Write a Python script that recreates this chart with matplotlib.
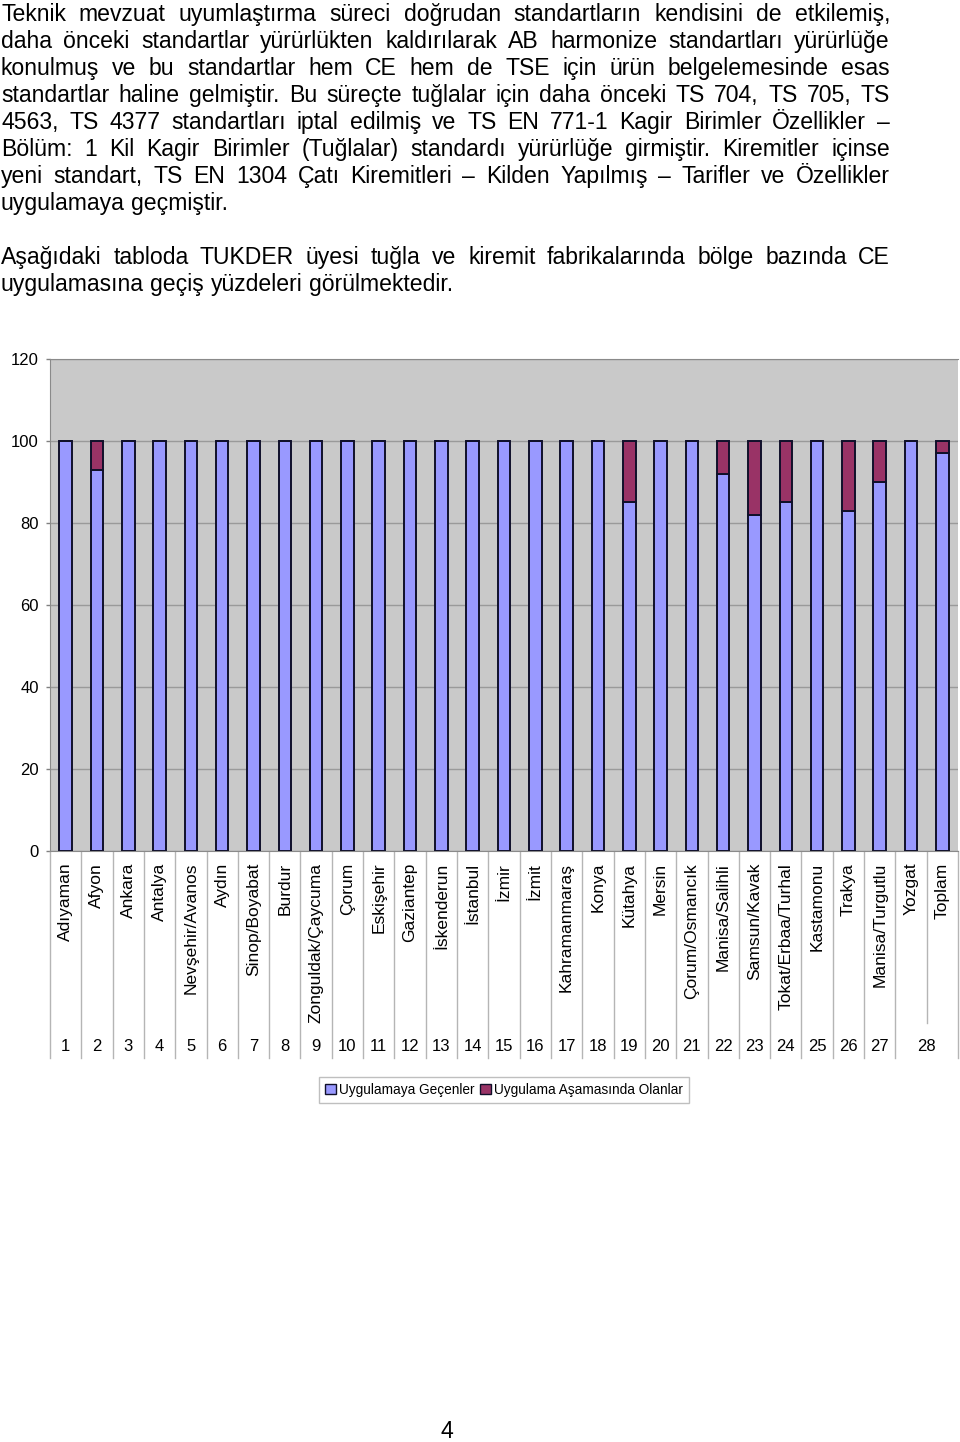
import matplotlib
matplotlib.use('Agg')
import matplotlib.pyplot as plt
import matplotlib.transforms as mtransforms
from matplotlib.font_manager import FontProperties
from matplotlib.patches import Patch
import numpy as np

# --- data ---
paragraph1 = [
    "Teknik mevzuat uyumlaştırma süreci doğrudan standartların kendisini de etkilemiş,",
    "daha önceki standartlar yürürlükten kaldırılarak AB harmonize standartları yürürlüğe",
    "konulmuş ve bu standartlar hem CE hem de TSE için ürün belgelemesinde esas",
    "standartlar haline gelmiştir. Bu süreçte tuğlalar için daha önceki TS 704, TS 705, TS",
    "4563, TS 4377 standartları iptal edilmiş ve TS EN 771-1 Kagir Birimler Özellikler –",
    "Bölüm: 1 Kil Kagir Birimler (Tuğlalar) standardı yürürlüğe girmiştir. Kiremitler içinse",
    "yeni standart, TS EN 1304 Çatı Kiremitleri – Kilden Yapılmış – Tarifler ve Özellikler",
    "uygulamaya geçmiştir.",
]
paragraph2 = [
    "Aşağıdaki tabloda TUKDER üyesi tuğla ve kiremit fabrikalarında bölge bazında CE",
    "uygulamasına geçiş yüzdeleri görülmektedir.",
]

cities = ['Adıyaman', 'Afyon', 'Ankara', 'Antalya', 'Nevşehir/Avanos', 'Aydın',
          'Sinop/Boyabat', 'Burdur', 'Zonguldak/Çaycuma', 'Çorum', 'Eskişehir',
          'Gaziantep', 'İskenderun', 'İstanbul', 'İzmir', 'İzmit', 'Kahramanmaraş',
          'Konya', 'Kütahya', 'Mersin', 'Çorum/Osmancık', 'Manisa/Salihli',
          'Samsun/Kavak', 'Tokat/Erbaa/Turhal', 'Kastamonu', 'Trakya',
          'Manisa/Turgutlu', 'Yozgat', 'Toplam']
row_numbers = [str(n) for n in range(1, 29)]

gecenler = [100, 93, 100, 100, 100, 100, 100, 100, 100, 100, 100, 100, 100, 100,
            100, 100, 100, 100, 85, 100, 100, 92, 82, 85, 100, 83, 90, 100, 97]
asamasinda = [100 - v for v in gecenler]

legend_labels = ['Uygulamaya Geçenler', 'Uygulama Aşamasında Olanlar']
yticks = [0, 20, 40, 60, 80, 100, 120]

W, H = 960, 1442
fig = plt.figure(figsize=(W / 100, H / 100), dpi=100)
fig.patch.set_facecolor('white')

# page overlay in pixel coordinates
page = fig.add_axes([0, 0, 1, 1])
page.set_xlim(0, W)
page.set_ylim(H, 0)
page.axis('off')

sans = ['Liberation Sans', 'DejaVu Sans']
body = FontProperties(family=sans, size=16.6)
small = FontProperties(family=sans, size=12)
renderer = fig.canvas.get_renderer()
space_w = renderer.get_text_width_height_descent('a a', body, ismath=False)[0] - \
    renderer.get_text_width_height_descent('aa', body, ismath=False)[0]


def put_line(line, y, justify, x0=1, x1=890):
    words = line.split(' ')
    widths = [renderer.get_text_width_height_descent(w, body, ismath=False)[0] for w in words]
    if justify and len(words) > 1:
        gap = (x1 - x0 - sum(widths)) / (len(words) - 1)
    else:
        gap = space_w
    x = x0
    for w, wd in zip(words, widths):
        page.text(x, y, w, fontproperties=body, ha='left', va='baseline')
        x += wd + gap


y = 21
for i, line in enumerate(paragraph1):
    put_line(line, y, i < len(paragraph1) - 1)
    y += 27
y += 27
for i, line in enumerate(paragraph2):
    put_line(line, y, i < len(paragraph2) - 1)
    y += 27

# --- chart ---
ax = fig.add_axes([50 / W, 1 - 851 / H, 908 / W, (851 - 359) / H])
ax.set_facecolor('#C9C9C9')
x = np.arange(len(cities))
ax.bar(x, gecenler, width=0.4, color='#9999FF', edgecolor='#10102a', linewidth=1.4, zorder=3)
ax.bar(x, asamasinda, bottom=gecenler, width=0.4, color='#993366', edgecolor='#10102a',
       linewidth=1.4, zorder=3)
ax.set_xlim(-0.5, len(cities) - 0.5)
ax.set_ylim(0, 120)
ax.set_yticks(yticks)
ax.yaxis.grid(True, color='#9a9a9a', linewidth=1)
ax.set_axisbelow(True)
ax.set_xticks([])
ax.tick_params(axis='y', length=3, width=1, color='#808080', pad=5)
for lab in ax.get_yticklabels():
    lab.set_fontproperties(small)
for side in ['left', 'top', 'bottom']:
    ax.spines[side].set_color('#8a8a8a')
ax.spines['right'].set_visible(False)

trans = mtransforms.blended_transform_factory(ax.transData, ax.transAxes)
for k in range(len(cities) + 1):
    bottom = -0.349 if k == len(cities) - 1 else -0.42
    ax.plot([k - 0.5, k - 0.5], [0, bottom], transform=trans, color='#b5b5b5',
            linewidth=1, clip_on=False)
for i, name in enumerate(cities):
    ax.text(i, -0.024, name, transform=trans, rotation=90, ha='center', va='top',
            family=sans, fontsize=12.5)
for i, num in enumerate(row_numbers):
    xpos = i if i < 27 else 27.5
    ax.text(xpos, -0.398, num, transform=trans, ha='center', va='center',
            fontproperties=small)

handles = [Patch(facecolor='#9999FF', edgecolor='#10102a', linewidth=1),
           Patch(facecolor='#993366', edgecolor='#10102a', linewidth=1)]
leg = fig.legend(handles, legend_labels, loc='center', ncol=2,
                 bbox_to_anchor=(504 / W, 1 - 1090 / H), frameon=True, fancybox=False,
                 prop=FontProperties(family=sans, size=9.8), handlelength=0.8,
                 handleheight=0.8, handletextpad=0.2, columnspacing=0.4,
                 borderpad=0.45, borderaxespad=0)
leg.get_frame().set_edgecolor('#b0b0b0')
leg.get_frame().set_linewidth(1)

page.text(447, 1431, '4', fontproperties=body, ha='center', va='center')

fig.savefig('out.png', dpi=100)
